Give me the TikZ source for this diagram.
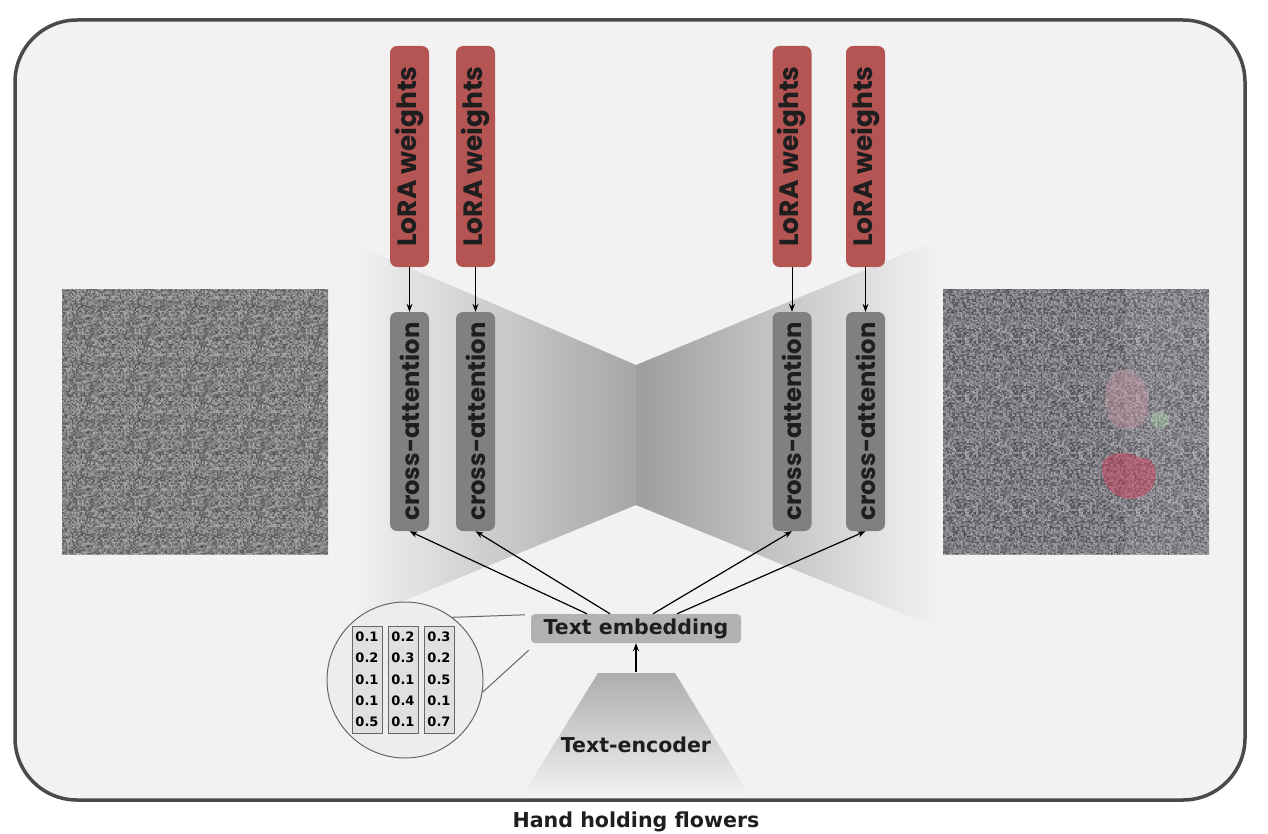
\documentclass[tikz,border=0pt]{standalone}
\usepackage{fontspec}
\usetikzlibrary{arrows.meta,calc,patterns}
\newfontfamily\pop{Poppins}
\newfontfamily\dv{DejaVu Sans}
\definecolor{bgc}{HTML}{F2F2F2}
\definecolor{frame}{HTML}{4A4A4A}
\definecolor{lora}{HTML}{B55553}
\definecolor{catt}{HTML}{808080}
\definecolor{embc}{HTML}{B2B2B2}
\definecolor{wedge}{HTML}{A6A6A6}
\definecolor{txt}{HTML}{1E1E1E}
\definecolor{blobred}{HTML}{D0405E}
\definecolor{blobpink}{HTML}{C89AA8}
\pgfmathsetseed{12345}
\pgfdeclarepatterninherentlycolored{noiseB}{\pgfpointorigin}{\pgfpoint{57pt}{57pt}}{\pgfpoint{57pt}{57pt}}{%
  \foreach \i in {0,...,37}{\foreach \j in {0,...,37}{%
    \pgfmathrandominteger{\g}{30}{74}%
    \pgfsetfillcolor{black!\g}%
    \pgfpathrectangle{\pgfpoint{\i*1.5pt}{\j*1.5pt}}{\pgfpoint{1.5pt}{1.5pt}}%
    \pgfusepath{fill}}}%
}
\pgfdeclarepatterninherentlycolored{noiseA}{\pgfpointorigin}{\pgfpoint{57pt}{57pt}}{\pgfpoint{57pt}{57pt}}{%
  \foreach \i in {0,...,37}{\foreach \j in {0,...,37}{%
    \pgfmathrandominteger{\g}{30}{70}%
    \pgfsetfillcolor{black!\g}%
    \pgfpathrectangle{\pgfpoint{\i*1.5pt}{\j*1.5pt}}{\pgfpoint{1.5pt}{1.5pt}}%
    \pgfusepath{fill}}}%
}
\tikzset{
  lorabox/.style={fill=lora, rounded corners=7pt, minimum width=39pt, minimum height=221pt, inner sep=0pt, text=txt},
  cabox/.style={fill=catt, rounded corners=7pt, minimum width=39pt, minimum height=219pt, inner sep=0pt, text=txt},
  arr/.style={-{Stealth[length=8pt,width=6pt]}, line width=1.2pt, black},
  col/.style={draw=black!60, fill=black!12, line width=0.8pt, minimum width=30pt, minimum height=107pt, inner sep=0pt},
  num/.style={font=\dv\bfseries\fontsize{13}{14}\selectfont, text=black},
}
\begin{document}
\begin{tikzpicture}[x=1pt,y=-1pt]
\useasboundingbox (0,0) rectangle (1268,834);
\fill[white] (0,0) rectangle (1268,834);
% frame
\draw[frame, line width=3.5pt, fill=bgc, rounded corners=62pt] (15,20) rectangle (1245,800);
% bowtie wedges
\shade[left color=bgc, right color=wedge] (352,243) -- (636,365) -- (636,505) -- (352,622) -- cycle;
\shade[left color=wedge!95!black, right color=bgc] (636,365) -- (938,240) -- (938,628) -- (636,505) -- cycle;
% text encoder trapezoid
\shade[top color=black!32, bottom color=bgc] (598,673) -- (675,673) -- (750,796) -- (522,796) -- cycle;
\node[font=\dv\bfseries\fontsize{20.5}{24}\selectfont, text=txt] (enc) at (636,745) {Text-encoder};
\coordinate (enctop) at (636,672);
% noise images
\fill[black!50] (62,289) rectangle (328,554);
\fill[pattern=noiseA] (62,289) rectangle (328,554);
\fill[black!53] (943,289) rectangle (1209,554);
\fill[pattern=noiseB] (943,289) rectangle (1209,554);
\fill[blue!40!white, opacity=0.06] (943,289) rectangle (1209,554);
% faint content in the right image
\fill[white, opacity=0.08] (1125,289) rectangle (1209,554);
\fill[blobpink, opacity=0.45] (1118,370) .. controls (1100,380) and (1100,420) .. (1120,428) .. controls (1140,432) and (1150,420) .. (1148,400) .. controls (1146,380) and (1135,365) .. (1118,370) -- cycle;
\fill[blobred, opacity=0.5] (1102,470) .. controls (1100,450) and (1130,450) .. (1140,458) .. controls (1160,455) and (1162,490) .. (1140,497) .. controls (1120,503) and (1104,492) .. (1102,470) -- cycle;
\fill[green!25!white, opacity=0.3] (1160,420) circle (9);
% LoRA boxes
\foreach \n/\x in {l1/409.5, l2/475.5, l3/792, l4/865.5}{
  \node[lorabox] (\n) at (\x,156.5) {\rotatebox{90}{\pop\bfseries\fontsize{26.5}{28}\selectfont LoRA weights}};
}
\foreach \n/\x in {c1/409.5, c2/475.5, c3/792, c4/865.5}{
  \node[cabox] (\n) at (\x,421.5) {\rotatebox{90}{\pop\bfseries\fontsize{24.3}{26}\selectfont cross-attention}};
}
\foreach \k in {1,2,3,4}{
  \draw[arr, line width=1pt] (l\k.south) -- (c\k.north);
}
% text embedding
\node[fill=embc, rounded corners=4pt, minimum width=210pt, minimum height=29pt, inner sep=0pt, font=\dv\bfseries\fontsize{20.5}{24}\selectfont, text=txt] (emb) at (636,628.5) {Text embedding};
\draw[arr] ([xshift=-49pt]emb.north) -- (c1.south);
\draw[arr] ([xshift=-26pt]emb.north) -- (c2.south);
\draw[arr] ([xshift=17pt]emb.north) -- (c3.south);
\draw[arr] ([xshift=41pt]emb.north) -- (c4.south);
\draw[arr] (enctop) -- (emb.south);
% zoom circle
\node[circle, draw=black!60, fill=black!7, line width=1pt, minimum size=156pt, inner sep=0pt] (zc) at (405,680) {};
\draw[black!60, line width=1pt] (zc.53) -- ([xshift=-6pt,yshift=-1pt]emb.north west);
\draw[black!60, line width=1pt] (zc.-9) -- ([xshift=-2pt,yshift=-7pt]emb.south west);
\node[col] (k1) at (367,679.5) {};
\node[col] (k2) at (403,679.5) {};
\node[col] (k3) at (439,679.5) {};
\foreach \k/\a/\b/\c/\d/\e in {1/0.1/0.2/0.1/0.1/0.5, 2/0.2/0.3/0.1/0.4/0.1, 3/0.3/0.2/0.5/0.1/0.7}{
  \node[num] at ($(k\k.center)+(0,-43)$) {\a};
  \node[num] at ($(k\k.center)+(0,-22)$) {\b};
  \node[num] at ($(k\k.center)+(0,0)$) {\c};
  \node[num] at ($(k\k.center)+(0,21)$) {\d};
  \node[num] at ($(k\k.center)+(0,42)$) {\e};
}
% caption
\node[font=\dv\bfseries\fontsize{20.6}{24}\selectfont, text=txt] (cap) at (636,822) {Hand holding flowers};
\end{tikzpicture}
\end{document}
